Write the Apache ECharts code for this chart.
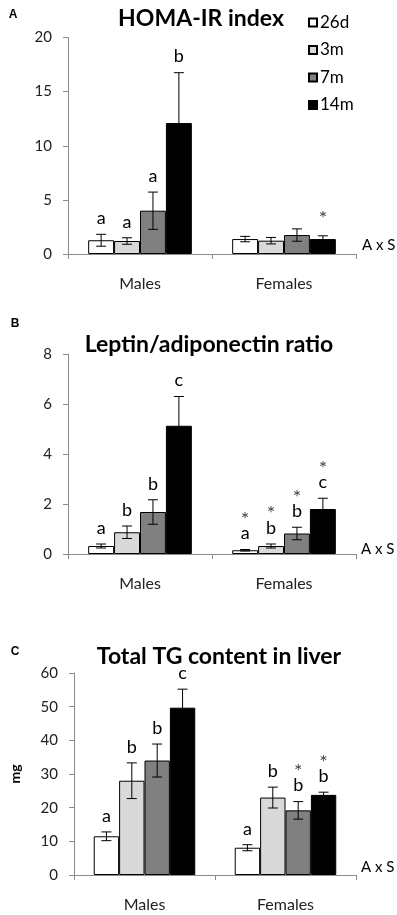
<!DOCTYPE html>
<html>
<head>
<meta charset="utf-8">
<script src="https://cdn.jsdelivr.net/npm/echarts@6/dist/echarts.min.js"></script>
<style>
  html, body { margin: 0; padding: 0; background: #fff; }
  #chart { width: 397px; height: 915px; }
</style>
</head>
<body>
<div id="chart"></div>
<script>
  const categories = ["Males", "Females"];
  const ages = ["26d", "3m", "7m", "14m"];
  const ageColors = ["#ffffff", "#d9d9d9", "#808080", "#000000"];

  // one row per age group: [males, females]
  const homaMean = [[1.27, 1.38], [1.2, 1.23], [4.0, 1.75], [12.1, 1.38]];
  const homaErr = [[0.55, 0.25], [0.3, 0.3], [1.72, 0.57], [4.65, 0.3]];
  const homaLetters = [["a", ""], ["a", ""], ["a", ""], ["b", ""]];
  const homaStars = [["", ""], ["", ""], ["", ""], ["", "*"]];
  const homaTicks = [0, 20, 5];

  const leptinMean = [[0.32, 0.15], [0.87, 0.32], [1.68, 0.82], [5.13, 1.8]];
  const leptinErr = [[0.08, 0.03], [0.25, 0.08], [0.49, 0.25], [1.17, 0.43]];
  const leptinLetters = [["a", "a"], ["b", "b"], ["b", "b"], ["c", "c"]];
  const leptinStars = [["", "*"], ["", "*"], ["", "*"], ["", "*"]];
  const leptinTicks = [0, 8, 2];

  const tgMean = [[11.5, 8.1], [28, 23], [34, 19.2], [49.7, 23.8]];
  const tgErr = [[1.3, 0.9], [5.3, 3.1], [4.9, 2.6], [5.5, 0.8]];
  const tgLetters = [["a", "a"], ["b", "b"], ["b", "b"], ["c", "b"]];
  const tgStars = [["", ""], ["", ""], ["", "*"], ["", "*"]];
  const tgTicks = [0, 60, 10];

  const panels = [
    { title: "HOMA-IR index", tag: "A", mean: homaMean, err: homaErr, letters: homaLetters, stars: homaStars, ticks: homaTicks },
    { title: "Leptin/adiponectin ratio", tag: "B", mean: leptinMean, err: leptinErr, letters: leptinLetters, stars: leptinStars, ticks: leptinTicks },
    { title: "Total TG content in liver", tag: "C", mean: tgMean, err: tgErr, letters: tgLetters, stars: tgStars, ticks: tgTicks, unit: "mg" },
  ];

  // layout of the three panels (px)
  const grids = [
    { left: 68, right: 41, top: 37.5, height: 216.5 },
    { left: 68, right: 41, top: 354, height: 200 },
    { left: 68, right: 41, top: 673, height: 202 },
  ];
  const titlePos = [[196, 2], [204, 328], [214, 640]];
  const tagPos = [[13, 15], [15, 324], [15, 652]];
  const axsPos = [[362, 245], [361, 549], [361, 867]];

  const GAP = 0.28;
  const FONT = "Lato";
  const AXIS_GRAY = "#8c8c8c";

  const chart = echarts.init(document.getElementById("chart"));

  const errorSeries = (p, a) => {
    const pn = panels[p];
    return {
      type: "custom",
      xAxisIndex: p,
      yAxisIndex: p,
      z: 5,
      silent: true,
      data: categories.map((c, i) => [i, pn.mean[a][i], pn.err[a][i]]),
      renderItem: (params, api) => {
        const i = api.value(0);
        const m = api.value(1);
        const e = api.value(2);
        const band = api.size([1, 0])[0];
        const group = band * (1 - GAP);
        const bw = group / ages.length;
        const cx = api.coord([i, 0])[0] - group / 2 + (a + 0.5) * bw;
        const top = api.coord([i, m + e])[1];
        const bot = api.coord([i, m - e])[1];
        const ls = { stroke: "#000", lineWidth: 1 };
        const children = [
          { type: "line", shape: { x1: cx, y1: top, x2: cx, y2: bot }, style: ls },
          { type: "line", shape: { x1: cx - 5, y1: top, x2: cx + 5, y2: top }, style: ls },
          { type: "line", shape: { x1: cx - 5, y1: bot, x2: cx + 5, y2: bot }, style: ls },
        ];
        const letter = pn.letters[a][i];
        const star = pn.stars[a][i];
        let y = top - 7;
        if (letter) {
          children.push({
            type: "text",
            x: cx,
            y: y,
            style: { text: letter, fill: "#000", fontSize: 18, fontFamily: FONT, align: "center", verticalAlign: "bottom" },
          });
          y -= 13;
        }
        if (star) {
          children.push({
            type: "text",
            x: cx,
            y: y,
            style: { text: star, fill: "#444", fontSize: 20, fontFamily: FONT, align: "center", verticalAlign: "bottom" },
          });
        }
        return { type: "group", children };
      },
    };
  };

  const series = [];
  panels.forEach((pn, p) => {
    ages.forEach((age, a) => {
      series.push({
        type: "bar",
        name: age,
        xAxisIndex: p,
        yAxisIndex: p,
        barGap: "0%",
        barCategoryGap: GAP * 100 + "%",
        silent: true,
        itemStyle: { color: ageColors[a], borderColor: "#000", borderWidth: 1 },
        data: pn.mean[a],
      });
    });
    ages.forEach((age, a) => series.push(errorSeries(p, a)));
  });

  const option = {
    backgroundColor: "#fff",
    animation: false,
    title: panels.map((pn, p) => ({
      text: pn.title,
      left: titlePos[p][0],
      top: titlePos[p][1],
      textAlign: "center",
      textStyle: { fontFamily: FONT, fontWeight: "bold", fontSize: 23, color: "#000" },
    })),
    legend: {
      data: ages,
      orient: "vertical",
      left: 303,
      top: 9,
      itemWidth: 8,
      itemHeight: 8,
      itemGap: 10.5,
      icon: "rect",
      selectedMode: false,
      textStyle: { fontFamily: FONT, fontSize: 17, lineHeight: 16, color: "#000", padding: [0, 0, 0, -2] },
    },
    grid: grids,
    xAxis: panels.map((pn, p) => ({
      type: "category",
      gridIndex: p,
      data: categories,
      axisLine: { lineStyle: { color: AXIS_GRAY } },
      axisTick: { show: true, length: 5, lineStyle: { color: AXIS_GRAY } },
      axisLabel: { margin: 22, color: "#222", fontFamily: FONT, fontSize: 16 },
    })),
    yAxis: panels.map((pn, p) => ({
      type: "value",
      gridIndex: p,
      min: pn.ticks[0],
      max: pn.ticks[1],
      interval: pn.ticks[2],
      name: pn.unit || "",
      nameLocation: "middle",
      nameRotate: 90,
      nameGap: 52,
      nameTextStyle: { fontFamily: FONT, fontWeight: "bold", fontSize: 14, color: "#000" },
      splitLine: { show: false },
      axisLine: { show: true, lineStyle: { color: AXIS_GRAY } },
      axisTick: { show: true, length: 5, lineStyle: { color: AXIS_GRAY } },
      axisLabel: { margin: 16, color: "#222", fontFamily: FONT, fontSize: 15 },
    })),
    graphic: [
      ...panels.map((pn, p) => ({
        type: "text",
        x: tagPos[p][0],
        y: tagPos[p][1],
        style: { text: pn.tag, fill: "#000", font: "bold 12px 'Liberation Sans'", align: "center", verticalAlign: "middle" },
      })),
      ...axsPos.map((pos) => ({
        type: "text",
        x: pos[0],
        y: pos[1],
        style: { text: "A x S", fill: "#000", fontSize: 15, fontFamily: FONT, verticalAlign: "middle" },
      })),
    ],
    series,
  };

  chart.setOption(option);
</script>
</body>
</html>
